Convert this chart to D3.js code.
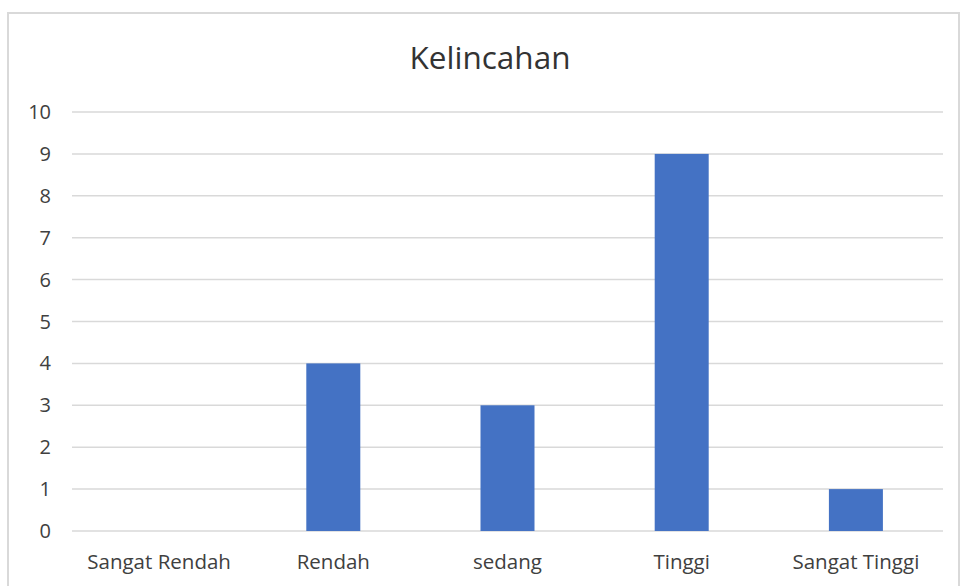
<!DOCTYPE html>
<html><head><meta charset="utf-8">
<script src="https://cdn.jsdelivr.net/npm/d3@7"></script>
<style>body{margin:0;background:#fff}</style>
</head><body>
<svg id="c" width="961" height="586"></svg>
<script>
const categories = ["Sangat Rendah", "Rendah", "sedang", "Tinggi", "Sangat Tinggi"];
const values = [0, 4, 3, 9, 1];
const yTicks = [0,1,2,3,4,5,6,7,8,9,10];
const title = "Kelincahan";

const svg = d3.select("#c");
const font = "'Open Sans', 'Noto Sans', sans-serif";
svg.append("rect").attr("x",8).attr("y",13).attr("width",951).attr("height",590)
  .attr("fill","#fff").attr("stroke","#d9d9d9").attr("stroke-width",2);

const x = d3.scaleBand().domain(categories).range([72,943]);
const y = d3.scaleLinear().domain([0,10]).range([531,112]);

svg.append("g").selectAll("line").data(yTicks).join("line")
  .attr("x1",72).attr("x2",943).attr("y1",d=>y(d)).attr("y2",d=>y(d))
  .attr("stroke","#d9d9d9").attr("stroke-width",1.5);

svg.append("g").selectAll("text").data(yTicks).join("text")
  .attr("x",51).attr("y",d=>y(d)).attr("dy","0.35em").attr("text-anchor","end")
  .attr("font-family",font).attr("font-size",20).attr("fill","#404040").text(d=>d);

const bw = x.bandwidth()*0.31;
svg.append("g").selectAll("rect").data(values).join("rect")
  .attr("x",(d,i)=>x(categories[i])+x.bandwidth()/2-bw/2)
  .attr("width",bw)
  .attr("y",d=>y(d)).attr("height",d=>y(0)-y(d))
  .attr("fill","#4472c4");

svg.append("g").selectAll("text").data(categories).join("text")
  .attr("x",d=>x(d)+x.bandwidth()/2).attr("y",562).attr("dy","0.35em")
  .attr("text-anchor","middle").attr("font-family",font).attr("font-size",20.5)
  .attr("fill","#404040").text(d=>d);

svg.append("text").attr("x",490).attr("y",58).attr("dy","0.35em").attr("text-anchor","middle")
  .attr("font-family",font).attr("font-size",31.5).attr("fill","#333").text(title);
</script>
</body></html>
